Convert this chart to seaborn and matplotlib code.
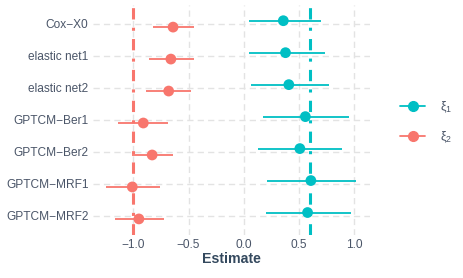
import numpy as np
import pandas as pd
import seaborn as sns
import matplotlib.pyplot as plt
from matplotlib.lines import Line2D

# datos
modelos = ['Cox−X0', 'elastic net1', 'elastic net2', 'GPTCM−Ber1',
           'GPTCM−Ber2', 'GPTCM−MRF1', 'GPTCM−MRF2']

xi1_est = [0.36, 0.38, 0.41, 0.56, 0.51, 0.61, 0.58]
xi1_lo = [0.05, 0.05, 0.07, 0.18, 0.13, 0.21, 0.20]
xi1_hi = [0.70, 0.74, 0.77, 0.96, 0.89, 1.02, 0.97]

xi2_est = [-0.64, -0.66, -0.68, -0.91, -0.83, -1.01, -0.95]
xi2_lo = [-0.82, -0.86, -0.89, -1.14, -1.01, -1.25, -1.17]
xi2_hi = [-0.45, -0.45, -0.48, -0.69, -0.64, -0.76, -0.72]

verdad = {'xi1': 0.6, 'xi2': -1.0}
x_ticks = [-1.0, -0.5, 0.0, 0.5, 1.0]

colores = {'xi1': '#00BFC4', 'xi2': '#F8766D'}
desplazo = {'xi1': -0.1, 'xi2': 0.1}

df = pd.concat([
    pd.DataFrame({'modelo': modelos, 'param': 'xi1', 'est': xi1_est, 'lo': xi1_lo, 'hi': xi1_hi}),
    pd.DataFrame({'modelo': modelos, 'param': 'xi2', 'est': xi2_est, 'lo': xi2_lo, 'hi': xi2_hi}),
], ignore_index=True)
df['pos'] = df['modelo'].map({m: i for i, m in enumerate(modelos)}) + df['param'].map(desplazo)

sns.set_theme(style='whitegrid')
plt.rcParams['font.family'] = ['Liberation Sans', 'DejaVu Sans']
plt.rcParams['mathtext.fontset'] = 'custom'
plt.rcParams['mathtext.rm'] = 'Liberation Sans'
plt.rcParams['mathtext.it'] = 'Liberation Sans'

fig = plt.figure(figsize=(4.63, 2.78), dpi=100)
ax = fig.add_axes([0.2, 0.155, 0.6, 0.828])

ax.set_axisbelow(True)
ax.grid(True, linestyle=(0, (4.5, 3)), color='#E3E3E3', linewidth=1.0)

for p in ['xi1', 'xi2']:
    ax.axvline(verdad[p], color=colores[p], linewidth=2.2,
               linestyle=(0, (3.7, 2.7, 1, 2.7)), zorder=1)

for p in ['xi1', 'xi2']:
    sub = df[df['param'] == p]
    ax.hlines(sub['pos'], sub['lo'], sub['hi'], color=colores[p], linewidth=1.3, zorder=2)

sns.scatterplot(data=df, x='est', y='pos', hue='param', palette=colores,
                s=60, edgecolor='none', legend=False, ax=ax, zorder=3)

ax.set_yticks(range(len(modelos)))
ax.set_yticklabels(modelos)
ax.set_ylim(len(modelos) - 0.4, -0.6)
ax.set_xticks(x_ticks)
ax.set_xticklabels(['−1.0', '−0.5', '0.0', '0.5', '1.0'])
ax.set_xlim(-1.37, 1.15)
ax.set_ylabel('')
ax.set_xlabel('Estimate', fontsize=10.2, fontweight='bold', color='#34495E', labelpad=1)
ax.tick_params(axis='both', labelsize=8.6, colors='#4A5568', length=0, pad=3)
for s in ax.spines.values():
    s.set_visible(False)

handles = [Line2D([0], [0], color=colores[p], marker='o', markersize=7, linewidth=1.3)
           for p in ['xi1', 'xi2']]
leg = fig.legend(handles, [r'$\xi_1$', r'$\xi_2$'], loc='center left',
                 bbox_to_anchor=(0.84, 0.56), frameon=False, fontsize=9,
                 handlelength=2.0, labelspacing=1.1, handletextpad=1.2)
for t in leg.get_texts():
    t.set_color('#4A5568')

fig.savefig('out.png', dpi=100)
